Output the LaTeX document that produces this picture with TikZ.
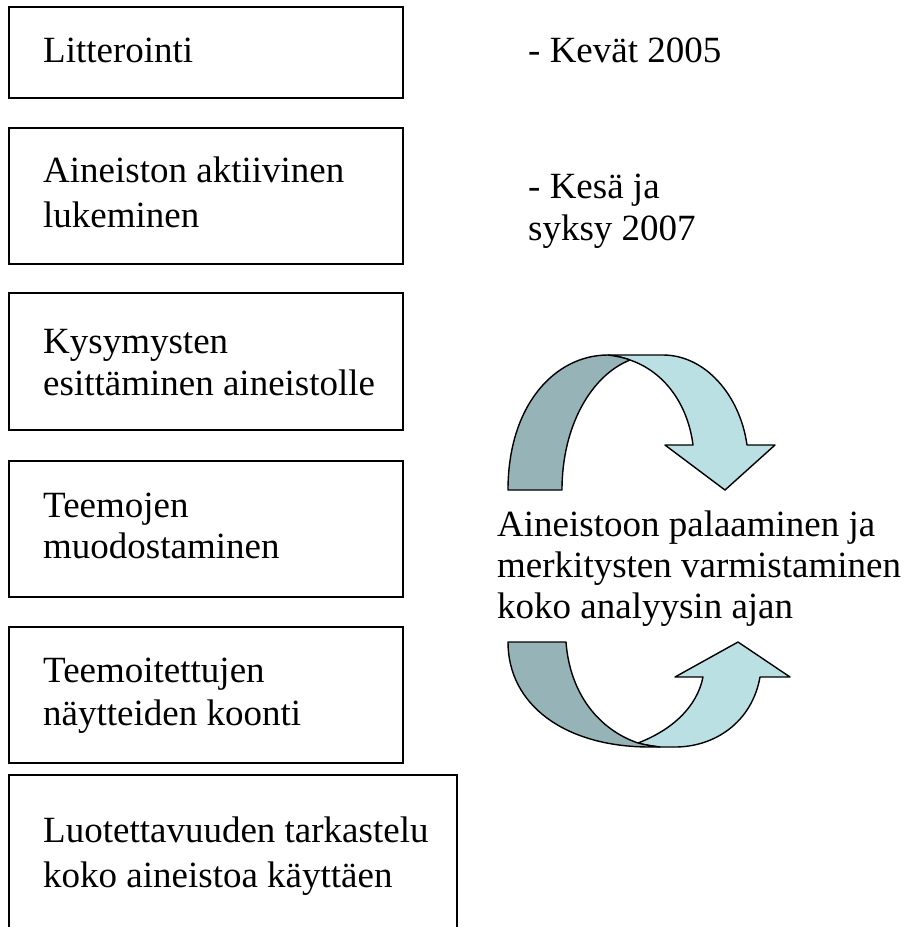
\documentclass[tikz,border=0pt]{standalone}
\usepackage{fontspec}
\setmainfont{Liberation Serif}
\begin{document}
\begin{tikzpicture}[x=1pt,y=-1pt,
  stagebox/.style={draw=black,line width=1.6pt,rectangle,inner sep=0pt,minimum width=394pt},
  txt/.style={anchor=base west,align=left,inner sep=0pt,font=\fontsize{37}{#1}\selectfont},
  txt/.default=43,
  ribbon/.style={draw=black,line width=1.4pt,line join=round},
  darkband/.style={ribbon,fill={rgb,255:red,150;green,179;blue,183}},
  lightband/.style={ribbon,fill={rgb,255:red,186;green,224;blue,228}}]
\useasboundingbox (0,0) rectangle (909,927);
% boxes
\node[stagebox,minimum height=91pt] (b1) at (206,52.5) {};
\node[stagebox,minimum height=136pt] (b2) at (206,196) {};
\node[stagebox,minimum height=137pt] (b3) at (206,361.5) {};
\node[stagebox,minimum height=136pt] (b4) at (206,529) {};
\node[stagebox,minimum height=136pt] (b5) at (206,695) {};
\node[stagebox,minimum width=448pt,minimum height=160pt] (b6) at (233,855) {};
% box texts (anchor = baseline of the last line)
\node[txt] (t1) at (43,62) {Litterointi};
\node[txt=45] (t2) at (43,227) {Aineiston aktiivinen\\lukeminen};
\node[txt=42] (t3) at (43,395) {Kysymysten\\esittäminen aineistolle};
\node[txt=41] (t4) at (43,558) {Teemojen\\muodostaminen};
\node[txt=43] (t5) at (43,725) {Teemoitettujen\\näytteiden koonti};
\node[txt=45] (t6) at (43,887) {Luotettavuuden tarkastelu\\koko aineistoa käyttäen};
% side texts
\node[txt] (s1) at (528,62) {- Kevät 2005};
\node[txt=42] (s2) at (528,240) {- Kesä ja\\syksy 2007};
\node[txt=41] (s3) at (497,618) {Aineistoon palaaminen ja\\merkitysten varmistaminen\\koko analyysin ajan};
% upper curved arrow
\draw[lightband] (608,355) -- (663,355) .. controls (705,355) and (740,395) .. (747,445)
  -- (775,445) -- (725,490) -- (665,445) -- (693,445)
  .. controls (688,405) and (665,372) .. (630,360)
  .. controls (622,357) and (615,356) .. (608,355) -- cycle;
\draw[darkband] (508,490) .. controls (508,405) and (555,355) .. (608,355)
  .. controls (615,356) and (622,357) .. (630,360)
  .. controls (592,375) and (562,425) .. (562,490) -- cycle;
% lower curved arrow
\draw[lightband] (638,743) .. controls (672,730) and (697,707) .. (703,677)
  -- (675,677) -- (738,642) -- (790,677) -- (760,677)
  .. controls (752,722) and (715,747) .. (675,747) -- (660,747)
  .. controls (652,746) and (645,745) .. (638,743) -- cycle;
\draw[darkband] (508,642) -- (566,642) .. controls (570,695) and (600,730) .. (638,743)
  .. controls (645,745) and (652,746) .. (660,747) -- (650,747)
  .. controls (565,747) and (508,705) .. (508,642) -- cycle;
\end{tikzpicture}
\end{document}
